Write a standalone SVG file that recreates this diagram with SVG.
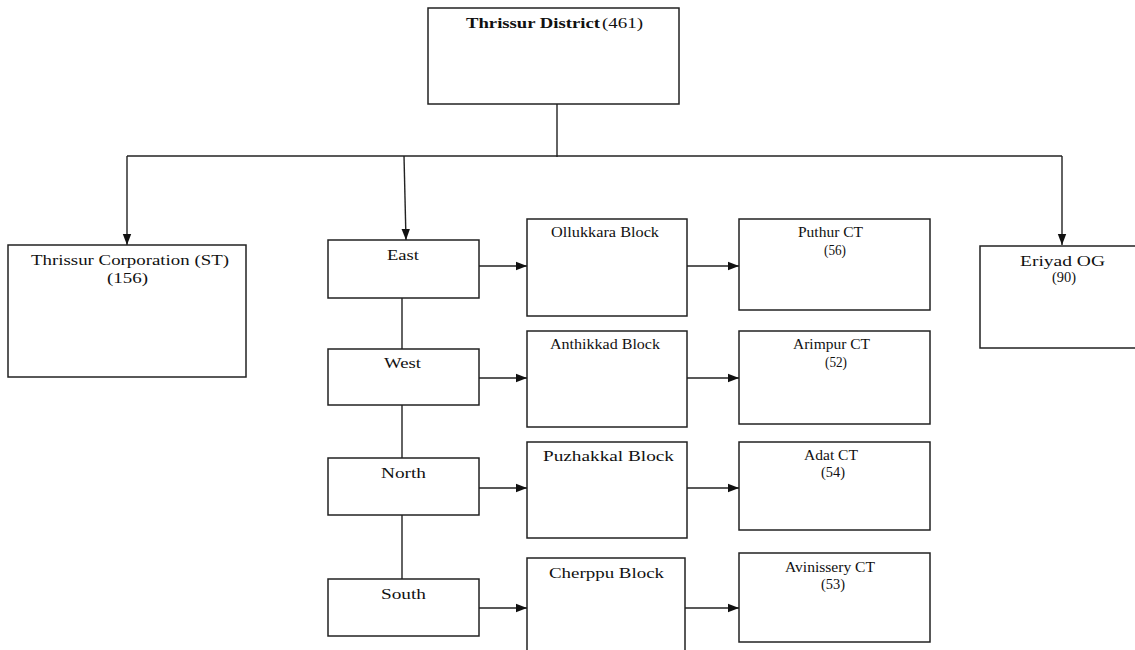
<svg xmlns="http://www.w3.org/2000/svg" width="1135" height="650" viewBox="0 0 1135 650">
<style>
.box{fill:#fff;stroke:#222;stroke-width:1.5}
.t{font-family:"Liberation Serif","Times New Roman",serif;font-size:15px;fill:#111}
.b{font-weight:bold}
.c{fill:none;stroke:#222;stroke-width:1.4}
.a{marker-end:url(#ah)}
</style>
<defs>
<marker id="ah" markerUnits="userSpaceOnUse" markerWidth="12" markerHeight="10" refX="11" refY="5" orient="auto">
<path d="M0,0.8 L11,5 L0,9.2 Z" fill="#111"/>
</marker>
</defs>
<rect width="1135" height="650" fill="#fff"/>
<g id="connectors">
<line class="c" x1="557" y1="104" x2="557" y2="157"/>
<line class="c" x1="127" y1="156" x2="1062" y2="156"/>
<line class="c a" x1="127" y1="156" x2="127" y2="245"/>
<line class="c a" x1="404" y1="156" x2="406" y2="240"/>
<line class="c a" x1="1062" y1="156" x2="1062" y2="245"/>
<line class="c" x1="402" y1="298" x2="402" y2="349"/>
<line class="c" x1="402" y1="405" x2="402" y2="458"/>
<line class="c" x1="402" y1="515" x2="402" y2="579"/>
<line class="c a" x1="479" y1="266" x2="527" y2="266"/>
<line class="c a" x1="687" y1="266" x2="739" y2="266"/>
<line class="c a" x1="479" y1="378" x2="527" y2="378"/>
<line class="c a" x1="687" y1="378" x2="739" y2="378"/>
<line class="c a" x1="479" y1="488" x2="527" y2="488"/>
<line class="c a" x1="687" y1="488" x2="739" y2="488"/>
<line class="c a" x1="479" y1="608" x2="527" y2="608"/>
<line class="c a" x1="685" y1="608" x2="739" y2="608"/>
</g>
<g id="district">
<rect class="box" x="428" y="8" width="251" height="96"/>
<text class="t b" x="466" y="28" textLength="134" lengthAdjust="spacingAndGlyphs">Thrissur District</text>
<text class="t" x="602" y="28" textLength="41" lengthAdjust="spacingAndGlyphs">(461)</text>
</g>
<g id="corporation">
<rect class="box" x="8" y="245" width="238" height="132"/>
<text class="t" x="31" y="265" textLength="198" lengthAdjust="spacingAndGlyphs">Thrissur Corporation (ST)</text>
<text class="t" x="107" y="283" textLength="41" lengthAdjust="spacingAndGlyphs">(156)</text>
</g>
<g id="east">
<rect class="box" x="328" y="240" width="151" height="58"/>
<text class="t" x="387" y="260" textLength="32" lengthAdjust="spacingAndGlyphs">East</text>
</g>
<g id="west">
<rect class="box" x="328" y="349" width="151" height="56"/>
<text class="t" x="384" y="368" textLength="37" lengthAdjust="spacingAndGlyphs">West</text>
</g>
<g id="north">
<rect class="box" x="328" y="458" width="151" height="57"/>
<text class="t" x="381" y="478" textLength="45" lengthAdjust="spacingAndGlyphs">North</text>
</g>
<g id="south">
<rect class="box" x="328" y="579" width="151" height="57"/>
<text class="t" x="381" y="599" textLength="45" lengthAdjust="spacingAndGlyphs">South</text>
</g>
<g id="ollukkara">
<rect class="box" x="527" y="219" width="160" height="97"/>
<text class="t" x="551" y="237" textLength="108" lengthAdjust="spacingAndGlyphs">Ollukkara Block</text>
</g>
<g id="anthikkad">
<rect class="box" x="527" y="331" width="160" height="96"/>
<text class="t" x="550" y="349" textLength="110" lengthAdjust="spacingAndGlyphs">Anthikkad Block</text>
</g>
<g id="puzhakkal">
<rect class="box" x="527" y="442" width="160" height="96"/>
<text class="t" x="543" y="461" textLength="131" lengthAdjust="spacingAndGlyphs">Puzhakkal Block</text>
</g>
<g id="cherppu">
<rect class="box" x="527" y="558" width="158" height="110"/>
<text class="t" x="549" y="578" textLength="115" lengthAdjust="spacingAndGlyphs">Cherppu Block</text>
</g>
<g id="puthur">
<rect class="box" x="739" y="219" width="191" height="91"/>
<text class="t" x="798" y="237" textLength="65" lengthAdjust="spacingAndGlyphs">Puthur CT</text>
<text class="t" x="824" y="255" textLength="22" lengthAdjust="spacingAndGlyphs">(56)</text>
</g>
<g id="arimpur">
<rect class="box" x="739" y="331" width="191" height="93"/>
<text class="t" x="793" y="349" textLength="77" lengthAdjust="spacingAndGlyphs">Arimpur CT</text>
<text class="t" x="825" y="367" textLength="22" lengthAdjust="spacingAndGlyphs">(52)</text>
</g>
<g id="adat">
<rect class="box" x="739" y="442" width="191" height="88"/>
<text class="t" x="804" y="460" textLength="54" lengthAdjust="spacingAndGlyphs">Adat CT</text>
<text class="t" x="821" y="477" textLength="24" lengthAdjust="spacingAndGlyphs">(54)</text>
</g>
<g id="avinissery">
<rect class="box" x="739" y="553" width="191" height="89"/>
<text class="t" x="785" y="572" textLength="90" lengthAdjust="spacingAndGlyphs">Avinissery CT</text>
<text class="t" x="821" y="589" textLength="24" lengthAdjust="spacingAndGlyphs">(53)</text>
</g>
<g id="eriyad">
<rect class="box" x="980" y="246" width="165" height="102"/>
<text class="t" x="1020" y="266" textLength="85" lengthAdjust="spacingAndGlyphs">Eriyad OG</text>
<text class="t" x="1052" y="282" textLength="24" lengthAdjust="spacingAndGlyphs">(90)</text>
</g>
</svg>
